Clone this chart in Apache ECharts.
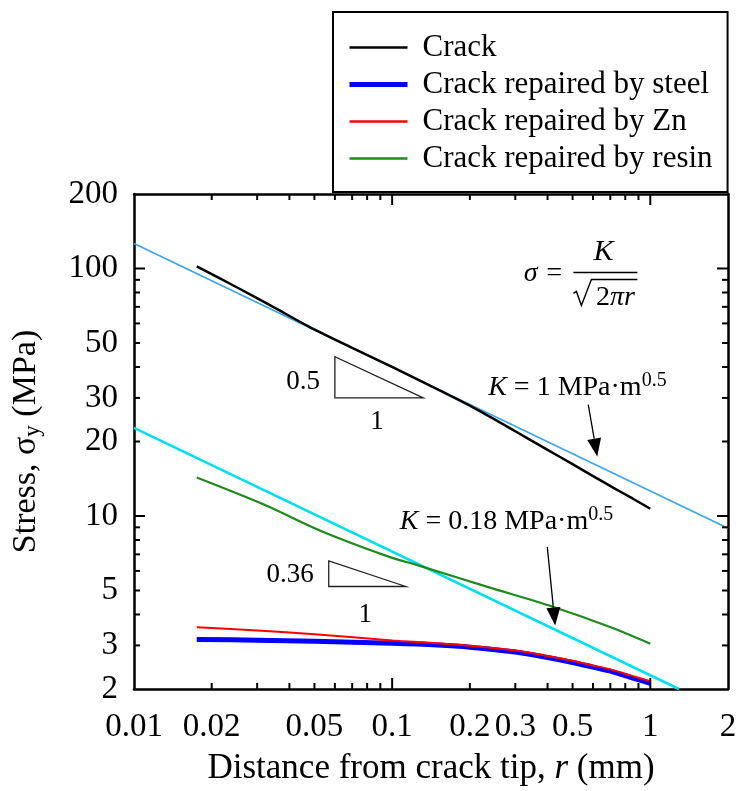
<!DOCTYPE html>
<html>
<head>
<meta charset="utf-8">
<script src="https://cdn.jsdelivr.net/npm/echarts@6/dist/echarts.min.js"></script>
<style>
  html, body { margin: 0; padding: 0; background: #fff; }
  #chart { width: 741px; height: 791px; }
</style>
</head>
<body>
<div id="chart"></div>
<script>
'use strict';

// ---- data: r in mm, stress in MPa ----
var crackR = [0.0175, 0.025, 0.035, 0.048, 0.07, 0.1, 0.15, 0.2, 0.3, 0.4, 0.5, 0.6, 0.72, 0.85, 1.0];
var crackS = [102, 84, 69.5, 58, 47.8, 40, 32.5, 27.9, 22.0, 18.5, 16.2, 14.5, 13.0, 11.8, 10.7];

var repairR = [0.0175, 0.03, 0.05, 0.1, 0.15, 0.2, 0.3, 0.4, 0.5, 0.6, 0.7, 0.85, 1.0];
var steelS = [3.17, 3.15, 3.12, 3.06, 3.01, 2.95, 2.82, 2.68, 2.56, 2.45, 2.36, 2.22, 2.11];
var znS = [3.55, 3.45, 3.33, 3.14, 3.06, 2.99, 2.86, 2.72, 2.60, 2.49, 2.40, 2.26, 2.15];

var resinR = [0.0175, 0.032, 0.053, 0.095, 0.127, 0.234, 0.419, 0.694, 1.0];
var resinS = [14.3, 11.1, 8.7, 6.9, 6.3, 5.17, 4.3, 3.57, 3.05];

// reference lines K = 1 and K = 0.18 MPa.m^0.5 (end points)
var k1R = [0.01, 2];
var k1S = [126.2, 8.92];
var k018R = [0.01, 1.29];
var k018S = [22.7, 2.0];

// ticks
var xLabels = [0.01, 0.02, 0.05, 0.1, 0.2, 0.3, 0.5, 1, 2];
var xMajor = [0.1, 1];
var xMinor = [0.02, 0.03, 0.04, 0.05, 0.06, 0.07, 0.08, 0.09, 0.2, 0.3, 0.4, 0.5, 0.6, 0.7, 0.8, 0.9];
var yLabels = [2, 3, 5, 10, 20, 30, 50, 100, 200];
var yMajor = [10, 100];
var yMinor = [3, 4, 5, 6, 7, 8, 9, 20, 30, 40, 50, 60, 70, 80, 90];

var names = ['Crack', 'Crack repaired by steel', 'Crack repaired by Zn', 'Crack repaired by resin'];

var FONT = '"Liberation Serif", "Times New Roman", serif';

function zip(a, b) {
    var res = [];
    for (var i = 0; i < a.length; i++) {
        res.push([a[i], b[i]]);
    }
    return res;
}

// plain log axis, frame line only
function logAxis(dim, pos) {
    return {
        type: 'log',
        logBase: 10,
        position: pos,
        min: dim === 'x' ? 0.01 : 2,
        max: dim === 'x' ? 2 : 200,
        splitLine: { show: false },
        axisLine: { show: true, lineStyle: { color: '#000', width: 2.5 } },
        axisLabel: { show: false },
        axisTick: { show: false }
    };
}

var chart = echarts.init(document.getElementById('chart'));

var xBottom = logAxis('x', 'bottom');
xBottom.axisLabel = {
    show: true,
    customValues: xLabels,
    margin: 22,
    color: '#000',
    fontFamily: FONT,
    fontSize: 33,
    formatter: function (v) { return String(v); }
};
xBottom.name = 'Distance from crack tip, {i|r} (mm)';
xBottom.nameLocation = 'middle';
xBottom.nameGap = 62;
xBottom.nameTextStyle = {
    color: '#000', fontFamily: FONT, fontSize: 35,
    rich: { i: { fontFamily: FONT, fontSize: 35, fontStyle: 'italic', color: '#000' } }
};

var yLeft = logAxis('y', 'left');
yLeft.axisLabel = {
    show: true,
    customValues: yLabels,
    margin: 16,
    color: '#000',
    fontFamily: FONT,
    fontSize: 33,
    formatter: function (v) { return String(v); }
};
yLeft.name = 'Stress, σ{sub|y} (MPa)';
yLeft.nameLocation = 'middle';
yLeft.nameGap = 90;
yLeft.nameTextStyle = {
    color: '#000', fontFamily: FONT, fontSize: 34,
    rich: { sub: { fontFamily: FONT, fontSize: 23, color: '#000', verticalAlign: 'bottom', padding: [12, 0, 0, 0] } }
};

var option = {
    animation: false,
    backgroundColor: '#fff',
    grid: { left: 134, right: 13, top: 194, bottom: 100 },
    legend: {
        orient: 'vertical',
        left: 333,
        top: 12,
        padding: [20, 15, 18, 14],
        borderColor: '#000',
        borderWidth: 2,
        backgroundColor: '#fff',
        itemWidth: 58,
        itemHeight: 14,
        itemGap: 6,
        itemStyle: { opacity: 0 },
        textStyle: { color: '#000', fontFamily: FONT, fontSize: 31, lineHeight: 31, padding: [0, 0, 0, 10] },
        data: [
            { name: names[0], lineStyle: { width: 2.5 } },
            { name: names[1], lineStyle: { width: 5 } },
            { name: names[2], lineStyle: { width: 2.5 } },
            { name: names[3], lineStyle: { width: 2.5 } }
        ]
    },
    xAxis: [xBottom, logAxis('x', 'top')],
    yAxis: [yLeft, logAxis('y', 'right')],
    series: [
        {
            name: 'K = 1', type: 'line', data: zip(k1R, k1S),
            symbol: 'none', lineStyle: { color: '#3aa6e8', width: 1.6 }, z: 2
        },
        {
            name: 'K = 0.18', type: 'line', data: zip(k018R, k018S),
            symbol: 'none', lineStyle: { color: '#00e1ec', width: 2.5 }, z: 2
        },
        {
            name: names[0], type: 'line', data: zip(crackR, crackS),
            symbol: 'none', smooth: 0.3, color: '#000', lineStyle: { color: '#000', width: 2.5 }, z: 3
        },
        {
            name: names[1], type: 'line', data: zip(repairR, steelS),
            symbol: 'none', smooth: 0.3, color: '#0000ff', lineStyle: { color: '#0000ff', width: 5 }, z: 3
        },
        {
            name: names[2], type: 'line', data: zip(repairR, znS),
            symbol: 'none', smooth: 0.3, color: '#ff0000', lineStyle: { color: '#ff0000', width: 2 }, z: 4
        },
        {
            name: names[3], type: 'line', data: zip(resinR, resinS),
            symbol: 'none', smooth: 0.3, color: '#1e8a1e', lineStyle: { color: '#1e8a1e', width: 2.2 }, z: 4
        }
    ]
};
chart.setOption(option);

function px(r, s) {
    return chart.convertToPixel({ xAxisIndex: 0, yAxisIndex: 0 }, [r, s]);
}

/* ---------- inward ticks on all four sides, placed by the axis scale ---------- */
function bar(x, y, w, h) {
    return {
        type: 'rect', z: 30,
        shape: { x: x, y: y, width: w, height: h },
        style: { fill: '#000' }
    };
}

function xTicks(values, len) {
    var out = [];
    for (var i = 0; i < values.length; i++) {
        var b = px(values[i], 2), t = px(values[i], 200);
        out.push(bar(b[0] - 1, b[1] - len, 2, len));
        out.push(bar(t[0] - 1, t[1], 2, len));
    }
    return out;
}

function yTicks(values, len) {
    var out = [];
    for (var i = 0; i < values.length; i++) {
        var l = px(0.01, values[i]), r = px(2, values[i]);
        out.push(bar(l[0], l[1] - 1, len, 2));
        out.push(bar(r[0] - len, r[1] - 1, len, 2));
    }
    return out;
}

/* ---------- annotations, anchored in data space ---------- */
function label(p, text, size, align, extra) {
    var style = {
        text: text,
        fill: '#000',
        font: size + 'px ' + FONT,
        align: align || 'left',
        verticalAlign: 'middle'
    };
    if (extra) {
        for (var k in extra) style[k] = extra[k];
    }
    return { type: 'text', x: p[0], y: p[1], style: style, z: 10 };
}

function slopeTriangle(a, b, c, txt, dx, dy) {
    var pa = px(a[0], a[1]), pb = px(b[0], b[1]), pc = px(c[0], c[1]);
    return [
        {
            type: 'polygon', z: 10,
            shape: { points: [pa, pb, pc] },
            style: { fill: 'none', stroke: '#222', lineWidth: 1.3 }
        },
        label([pa[0] - 15, (pa[1] + pb[1]) / 2 + dy], txt, 27, 'right'),
        label([(pb[0] + pc[0]) / 2 - 2, pb[1] + dx], '1', 27, 'center')
    ];
}

function arrow(a, b) {
    var p0 = px(a[0], a[1]), p1 = px(b[0], b[1]);
    var dx = p1[0] - p0[0], dy = p1[1] - p0[1];
    var len = Math.sqrt(dx * dx + dy * dy);
    var ux = dx / len, uy = dy / len;
    var hl = 18, hw = 7;
    var base = [p1[0] - ux * hl, p1[1] - uy * hl];
    return [
        {
            type: 'line', z: 10,
            shape: { x1: p0[0], y1: p0[1], x2: base[0], y2: base[1] },
            style: { stroke: '#000', lineWidth: 1.3 }
        },
        {
            type: 'polygon', z: 10,
            shape: { points: [p1, [base[0] - uy * hw, base[1] + ux * hw], [base[0] + uy * hw, base[1] - ux * hw]] },
            style: { fill: '#000' }
        }
    ];
}

var kRich = {
    i: { font: 'italic 28px ' + FONT, fill: '#000' },
    n: { font: '28px ' + FONT, fill: '#000' },
    sup: { font: '20px ' + FONT, fill: '#000', verticalAlign: 'top', padding: [0, 0, 14, 0] }
};

var g = [];
g = g.concat(xTicks(xMajor, 11), xTicks(xMinor, 6), yTicks(yMajor, 11), yTicks(yMinor, 6));
g = g.concat(slopeTriangle([0.06, 44], [0.06, 30], [0.132, 30], '0.5', 24, 5));
g = g.concat(slopeTriangle([0.0568, 6.59], [0.0568, 5.19], [0.113, 5.19], '0.36', 28, 1));
g = g.concat(arrow([0.575, 28.2], [0.623, 17.4]));
g = g.concat(arrow([0.399, 7.5], [0.428, 3.61]));
g.push(label(px(0.2355, 33), '{i|K}{n| = 1 MPa·m}{sup|0.5}', 28, 'left', { rich: kRich }));
g.push(label(px(0.107, 9.46), '{i|K}{n| = 0.18 MPa·m}{sup|0.5}', 28, 'left', { rich: kRich }));

// sigma = K / sqrt(2 pi r)
var fc = px(0.67, 96.4);
g.push(label([fc[0] - 42, fc[1] + 1], 'σ =', 28, 'right', { font: 'italic 28px ' + FONT }));
g.push(label([fc[0] - 2, fc[1] - 20], 'K', 30, 'center', { font: 'italic 30px ' + FONT }));
g.push({
    type: 'line', z: 10,
    shape: { x1: fc[0] - 32, y1: fc[1], x2: fc[0] + 32, y2: fc[1] },
    style: { stroke: '#000', lineWidth: 1.4 }
});
g.push({
    type: 'polyline', z: 10,
    shape: { points: [
        [fc[0] - 32, fc[1] + 21], [fc[0] - 29, fc[1] + 19], [fc[0] - 24, fc[1] + 33],
        [fc[0] - 14, fc[1] + 7], [fc[0] + 32, fc[1] + 7]
    ] },
    style: { stroke: '#000', lineWidth: 1.4, fill: 'none' }
});
g.push(label([fc[0] + 10, fc[1] + 25], '{n|2}{i|πr}', 28, 'center', { rich: kRich }));

chart.setOption({ graphic: g });
</script>
</body>
</html>
